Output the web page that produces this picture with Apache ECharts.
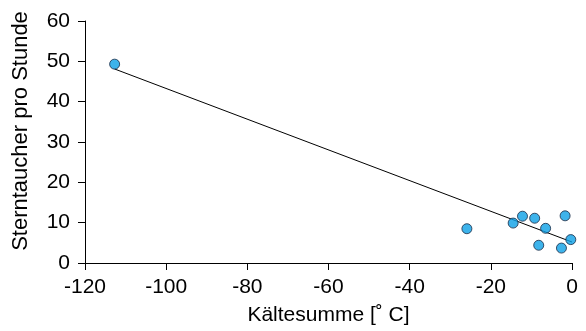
<!DOCTYPE html>
<html><head><meta charset="utf-8">
<script src="https://cdn.jsdelivr.net/npm/echarts@6/dist/echarts.min.js"></script>
<style>html,body{margin:0;padding:0;background:#fff}#c{width:586px;height:331px}</style>
</head><body><div id="c"></div>
<script>
const xValues = [-112.7, -25.9, -14.5, -12.2, -9.2, -6.5, -1.7, -0.3, -8.2, -2.6];
const yValues = [49.3, 8.5, 9.9, 11.6, 11.1, 8.6, 11.7, 5.8, 4.4, 3.7];
const lineX = [-112.7, 0];
const lineY = [48.1, 5.2];
const xTitle = 'Kältesumme [˚ C]';
const yTitle = 'Sterntaucher pro Stunde';

const font = 'Liberation Sans, Arial, sans-serif';
const fs = 21;
const chart = echarts.init(document.getElementById('c'), null, {renderer: 'canvas'});
chart.setOption({
  animation: false,
  grid: {left: 85, right: 14, top: 21, bottom: 68},
  xAxis: {
    type: 'value', min: -120, max: 0, interval: 20,
    axisLine: {show: true, onZero: false, lineStyle: {color: '#000', width: 1}},
    axisTick: {show: true, length: 7, lineStyle: {color: '#000'}},
    splitLine: {show: false},
    axisLabel: {color: '#000', fontFamily: font, fontSize: fs, margin: 14},
    name: xTitle, nameLocation: 'middle', nameGap: 42,
    nameTextStyle: {color: '#000', fontFamily: font, fontSize: fs}
  },
  yAxis: {
    type: 'value', min: 0, max: 60, interval: 10,
    axisLine: {show: true, onZero: false, lineStyle: {color: '#000', width: 1}},
    axisTick: {show: true, length: 7, lineStyle: {color: '#000'}},
    splitLine: {show: false},
    axisLabel: {color: '#000', fontFamily: font, fontSize: fs, margin: 15}
  },
  graphic: [{
    type: 'text', x: 21, y: 131, rotation: Math.PI / 2,
    style: {text: yTitle, fill: '#000', font: '22px ' + font, align: 'center', verticalAlign: 'middle'}
  }],
  series: [{
    type: 'line', data: lineX.map((x, i) => [x, lineY[i]]),
    showSymbol: false, symbol: 'none', lineStyle: {color: '#000', width: 1}, z: 2
  }, {
    type: 'scatter', data: xValues.map((x, i) => [x, yValues[i]]),
    symbol: 'circle', symbolSize: 10,
    itemStyle: {color: '#0ca0e6', borderColor: '#1a2a45', borderWidth: 1}, z: 3
  }]
});
</script></body></html>
